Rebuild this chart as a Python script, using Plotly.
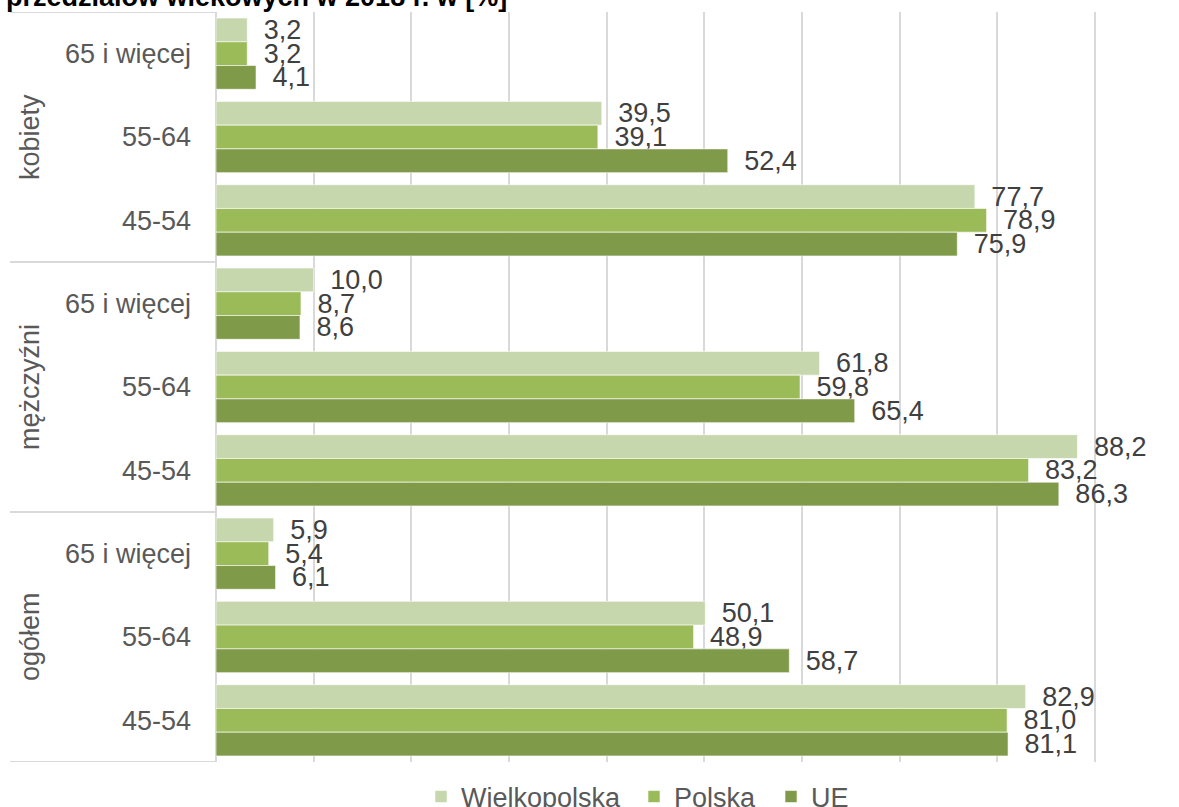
import plotly.graph_objects as go

# Employment rate by sex and age group, 2018 [%]
groups = ["kobiety", "mężczyźni", "ogółem"]
ages = ["65 i więcej", "55-64", "45-54"]
series_names = ["Wielkopolska", "Polska", "UE"]

wielkopolska = [3.2, 39.5, 77.7, 10.0, 61.8, 88.2, 5.9, 50.1, 82.9]
polska = [3.2, 39.1, 78.9, 8.7, 59.8, 83.2, 5.4, 48.9, 81.0]
ue = [4.1, 52.4, 75.9, 8.6, 65.4, 86.3, 6.1, 58.7, 81.1]

colors = ["#C6D6AD", "#9BBB59", "#7F9A48"]

FONT = "Liberation Sans, Arial, sans-serif"
FS = 27
W, H = 1179, 807
ML, MR, MT, MB = 216, 0, 12, 45
PW, PH = W - ML - MR, H - MT - MB
PX_PER_UNIT = (1095 - 216) / 90.0
x_max = PW / PX_PER_UNIT

n_rows = len(groups) * len(ages)
row_pos = list(range(n_rows))
row_labels = [a for _ in groups for a in ages]


def fmt(v):
    return "\u2002" + f"{v:.1f}".replace(".", ",")


legend_ids = ["legend", "legend2", "legend3"]
legend_left_px = [421, 634, 771]

fig = go.Figure()
for name, vals, col, lid in zip(series_names, [wielkopolska, polska, ue], colors, legend_ids):
    fig.add_trace(go.Bar(
        name=name,
        y=row_pos,
        x=vals,
        orientation="h",
        legend=lid,
        marker=dict(color=col, line=dict(color="rgba(255,255,255,0.6)", width=1)),
        text=[fmt(v) for v in vals],
        textposition="outside",
        textangle=0,
        constraintext="none",
        cliponaxis=False,
        textfont=dict(family=FONT, size=FS, color="#404040"),
        hoverinfo="skip",
    ))

# group dividers on the category axis
x_left = (10 - ML) / PW
shapes = []
for b in [-0.5, 2.5, 5.5, 8.5]:
    shapes.append(dict(type="line", xref="paper", yref="y", x0=x_left, x1=0,
                       y0=b, y1=b, line=dict(color="#D9D9D9", width=2)))

# rotated group labels
annotations = []
for i, g in enumerate(groups):
    annotations.append(dict(
        text=g, xref="paper", yref="y",
        x=(30 - ML) / PW, y=i * len(ages) + 1,
        textangle=-90, showarrow=False, xanchor="center", yanchor="middle",
        font=dict(family=FONT, size=FS, color="#595959"),
    ))

# chart title (second line)
annotations.append(dict(
    text="<b>przedziałów wiekowych w 2018 r. w [%]</b>",
    xref="paper", yref="paper", x=(4 - ML) / PW, y=1,
    xanchor="left", yanchor="bottom", yshift=-2, showarrow=False,
    font=dict(family=FONT, size=27, color="#000000"),
))

legend_y = -(797 - (H - MB)) / PH
legend_layout = {}
for lid, lx in zip(legend_ids, legend_left_px):
    legend_layout[lid] = dict(
        orientation="h", x=(lx - ML) / PW, xanchor="left",
        y=legend_y, yanchor="middle",
        font=dict(family=FONT, size=FS, color="#595959"),
        itemclick=False, bgcolor="rgba(0,0,0,0)",
    )

fig.update_layout(
    width=W, height=H,
    margin=dict(l=ML, r=MR, t=MT, b=MB, autoexpand=False),
    paper_bgcolor="white", plot_bgcolor="white",
    barmode="group", bargap=0.145, bargroupgap=0,
    showlegend=True,
    shapes=shapes,
    annotations=annotations,
    xaxis=dict(
        range=[0, x_max], dtick=10, showticklabels=False,
        showgrid=True, gridcolor="#D9D9D9", gridwidth=2,
        zeroline=True, zerolinecolor="#D9D9D9", zerolinewidth=2,
        showline=False, fixedrange=True,
    ),
    yaxis=dict(
        tickmode="array", tickvals=row_pos, ticktext=row_labels,
        range=[n_rows - 0.5, -0.5],
        showgrid=False, zeroline=False, showline=False, ticks="",
        ticklabelstandoff=24,
        tickfont=dict(family=FONT, size=FS, color="#595959"),
        fixedrange=True,
    ),
    **legend_layout,
)

fig.write_html("out.html")
